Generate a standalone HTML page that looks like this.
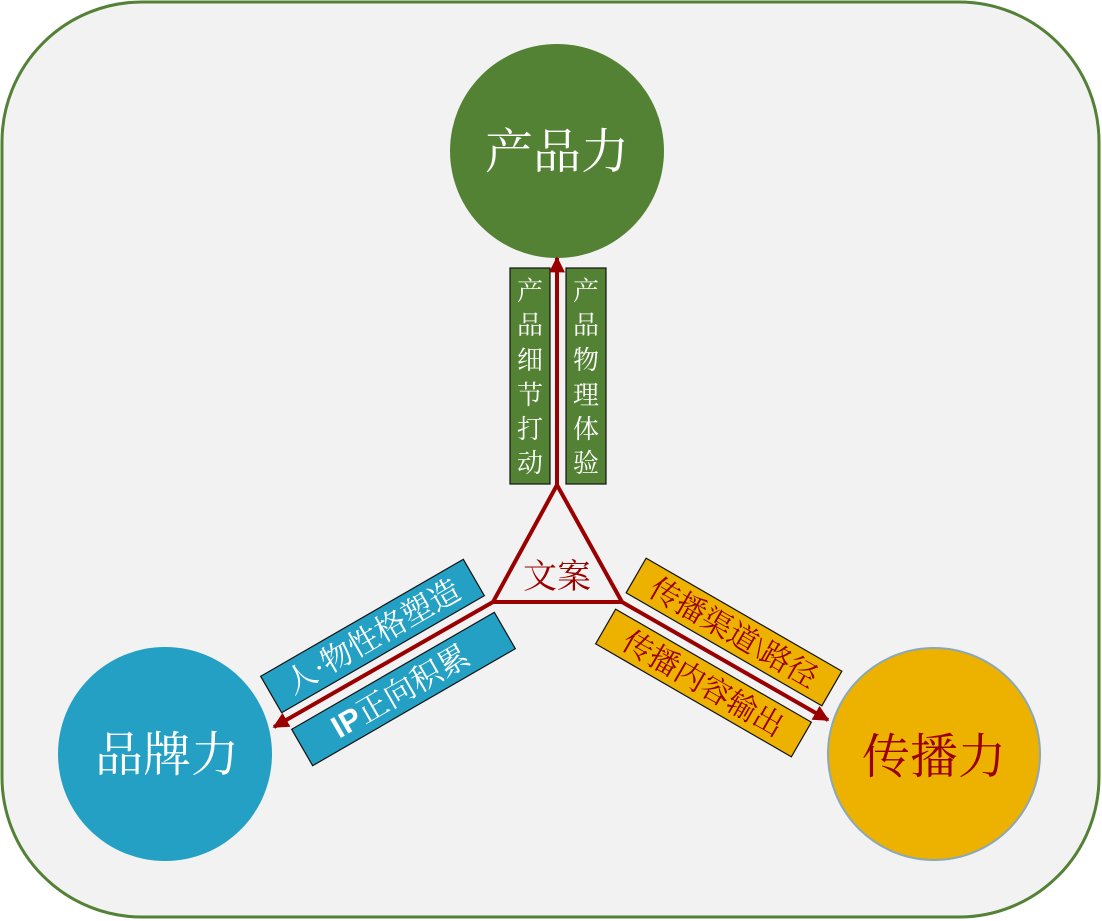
<!DOCTYPE html>
<html><head><meta charset="utf-8">
<style>
html,body{margin:0;padding:0;background:#fff;}
svg{display:block;}
text{font-family:"Liberation Serif","Noto Serif CJK SC",serif;}
</style></head>
<body>
<svg width="1102" height="921" viewBox="0 0 1102 921" xmlns="http://www.w3.org/2000/svg">
<defs>
<marker id="ah" viewBox="0 0 10 10" refX="9" refY="5" markerWidth="4" markerHeight="4" orient="auto" markerUnits="strokeWidth">
<path d="M0,0 L10,5 L0,10 Z" fill="#990000"/>
</marker>
</defs>
<rect x="2" y="2" width="1097" height="915" rx="140" ry="140" fill="#f2f2f2" stroke="#538135" stroke-width="3"/>

<circle cx="557" cy="151" r="107" fill="#548235"/>
<text x="557" y="168" font-size="48" fill="#fff" text-anchor="middle">产品力</text>
<circle cx="165" cy="754" r="107" fill="#23a0c3"/>
<text x="167" y="771" font-size="48" fill="#fff" text-anchor="middle">品牌力</text>
<circle cx="934" cy="754" r="106" fill="#edb100" stroke="#8aa8b5" stroke-width="2"/>
<text x="934" y="773" font-size="48" fill="#990000" text-anchor="middle">传播力</text>

<rect x="510" y="268" width="40" height="216" fill="#548235" stroke="#111" stroke-width="1.2"/>
<rect x="566" y="268" width="40" height="216" fill="#548235" stroke="#111" stroke-width="1.2"/>
<g font-size="26" fill="#fff" text-anchor="middle">
<text x="530" y="300">产</text><text x="530" y="334">品</text><text x="530" y="369">细</text><text x="530" y="404">节</text><text x="530" y="438">打</text><text x="530" y="472">动</text>
<text x="586" y="300">产</text><text x="586" y="334">品</text><text x="586" y="369">物</text><text x="586" y="404">理</text><text x="586" y="438">体</text><text x="586" y="472">验</text>
</g>

<g transform="translate(372.5,636) rotate(-30)">
<rect x="-117" y="-21" width="234" height="42" fill="#23a0c3" stroke="#111" stroke-width="1.2"/>
<text x="0" y="11" font-size="31" fill="#fff" text-anchor="middle">人·物性格塑造</text>
</g>
<g transform="translate(403.5,689) rotate(-30)">
<rect x="-117" y="-21" width="234" height="42" fill="#23a0c3" stroke="#111" stroke-width="1.2"/>
<text x="-4" y="11" font-size="31" fill="#fff" text-anchor="middle"><tspan font-family="Liberation Sans" font-weight="bold">IP</tspan>正向积累</text>
</g>
<g transform="translate(734,632) rotate(30)">
<rect x="-113" y="-20" width="226" height="40" fill="#edb100" stroke="#111" stroke-width="1.2"/>
<text x="0" y="11" font-size="30" fill="#990000" text-anchor="middle">传播渠道\路径</text>
</g>
<g transform="translate(703.5,683) rotate(30)">
<rect x="-113" y="-20" width="226" height="40" fill="#edb100" stroke="#111" stroke-width="1.2"/>
<text x="0" y="11" font-size="30" fill="#990000" text-anchor="middle">传播内容输出</text>
</g>

<line x1="557" y1="487" x2="557" y2="258" stroke="#990000" stroke-width="4" marker-end="url(#ah)"/>
<line x1="493" y1="602" x2="274" y2="727" stroke="#990000" stroke-width="4" marker-end="url(#ah)"/>
<line x1="622" y1="602" x2="828" y2="720" stroke="#990000" stroke-width="4" marker-end="url(#ah)"/>

<polygon points="557,485 493,602 622,602" fill="#f2f2f2" stroke="#990000" stroke-width="4" stroke-linejoin="miter"/>
<text x="557" y="588" font-size="34" fill="#990000" text-anchor="middle">文案</text>
</svg>
</body></html>
